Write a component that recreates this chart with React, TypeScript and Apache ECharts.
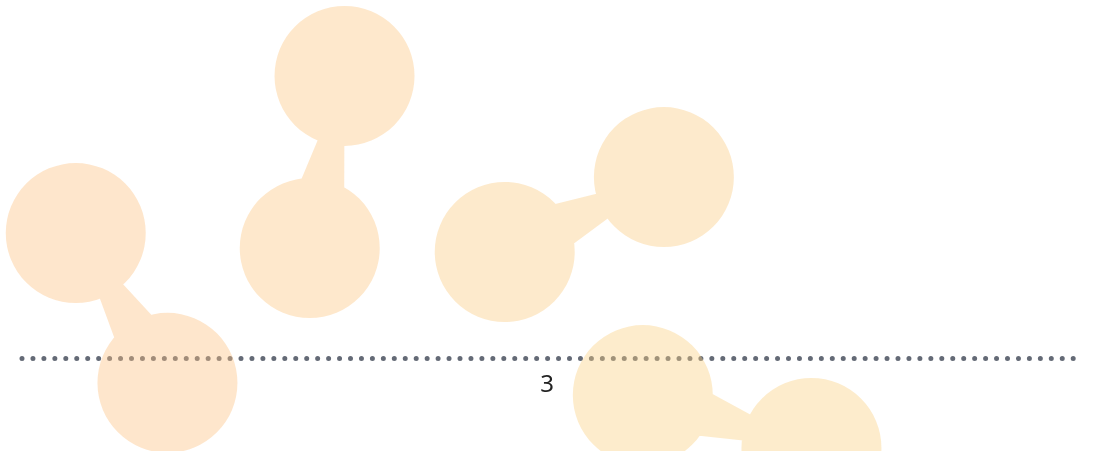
import React, { useEffect, useRef } from "react";
import * as echarts from "echarts";

// Category axis
const categories: string[] = ["3"];

// Each pair: [apexX, apexY, baseX, baseY, radius] in data units (x 0..100, y 0..100)
const pairA: number[] = [5.1, 35.7, 13.8, -7.1, 6.64];
const pairB: number[] = [30.6, 80.6, 27.3, 31.4, 6.64];
const pairC: number[] = [60.9, 51.7, 45.8, 30.3, 6.64];
const pairD: number[] = [74.9, -25.7, 58.9, -10.6, 6.64];
const pairs: number[][] = [pairA, pairB, pairC, pairD];
const pairColors: string[] = ["#fcc080", "#fcc580", "#faca80", "#facf80"];

function circlePath(cx: number, cy: number, r: number): string {
  return `M${cx + r} ${cy}A${r} ${r} 0 1 1 ${cx - r} ${cy}A${r} ${r} 0 1 1 ${cx + r} ${cy}Z`;
}

export default function App() {
  const ref = useRef<HTMLDivElement>(null);
  useEffect(() => {
    if (!ref.current) return;
    const chart = echarts.init(ref.current, undefined, { renderer: "svg" });
    const dotColor = "#646a76";
    const option: any = {
      animation: false,
      grid: { left: 22, right: 17, top: 8, bottom: 93, containLabel: false },
      xAxis: [
        {
          type: "category",
          data: categories,
          axisLine: {
            show: true,
            lineStyle: { color: dotColor, width: 5, type: [0, 10.95], cap: "round" },
          },
          axisTick: {
            show: true,
            length: 0.01,
            lineStyle: { color: dotColor, width: 5, cap: "round" },
          },
          splitLine: { show: false },
          axisLabel: {
            color: "#222",
            fontSize: 24,
            margin: 12,
            fontFamily: "Noto Sans",
            padding: [0, 4, 0, 0],
          },
        },
        { type: "value", min: 0, max: 100, show: false },
      ],
      yAxis: { type: "value", min: 0, max: 100, show: false },
      series: [
        {
          type: "custom",
          xAxisIndex: 1,
          yAxisIndex: 0,
          clip: false,
          data: pairs.map((p, i) => ({ value: p, itemStyle: { color: pairColors[i] } })),
          renderItem: (params: any, api: any) => {
            const p1 = api.coord([api.value(0), api.value(1)]);
            const p2 = api.coord([api.value(2), api.value(3)]);
            const r = api.size([api.value(4), 0])[0];
            const half = r / 2;
            const dx = p2[0] - p1[0];
            const dy = p2[1] - p1[1];
            const len = Math.sqrt(dx * dx + dy * dy) || 1;
            const nx = -dy / len;
            const ny = dx / len;
            let a = [p1[0], p1[1]];
            let b = [p2[0] + nx * half, p2[1] + ny * half];
            let c = [p2[0] - nx * half, p2[1] - ny * half];
            const area =
              a[0] * b[1] - b[0] * a[1] + b[0] * c[1] - c[0] * b[1] + c[0] * a[1] - a[0] * c[1];
            if (area < 0) {
              const t = b;
              b = c;
              c = t;
            }
            const tri = `M${a[0]} ${a[1]}L${b[0]} ${b[1]}L${c[0]} ${c[1]}Z`;
            const d = circlePath(p1[0], p1[1], r) + circlePath(p2[0], p2[1], r) + tri;
            return {
              type: "path",
              shape: { pathData: d },
              style: { fill: api.visual("color"), opacity: 0.4 },
            };
          },
        },
      ],
    };
    chart.setOption(option);
    return () => chart.dispose();
  }, []);
  return (
    <div
      ref={ref}
      style={{ position: "fixed", left: 0, top: 0, width: 1093, height: 451 }}
    />
  );
}
